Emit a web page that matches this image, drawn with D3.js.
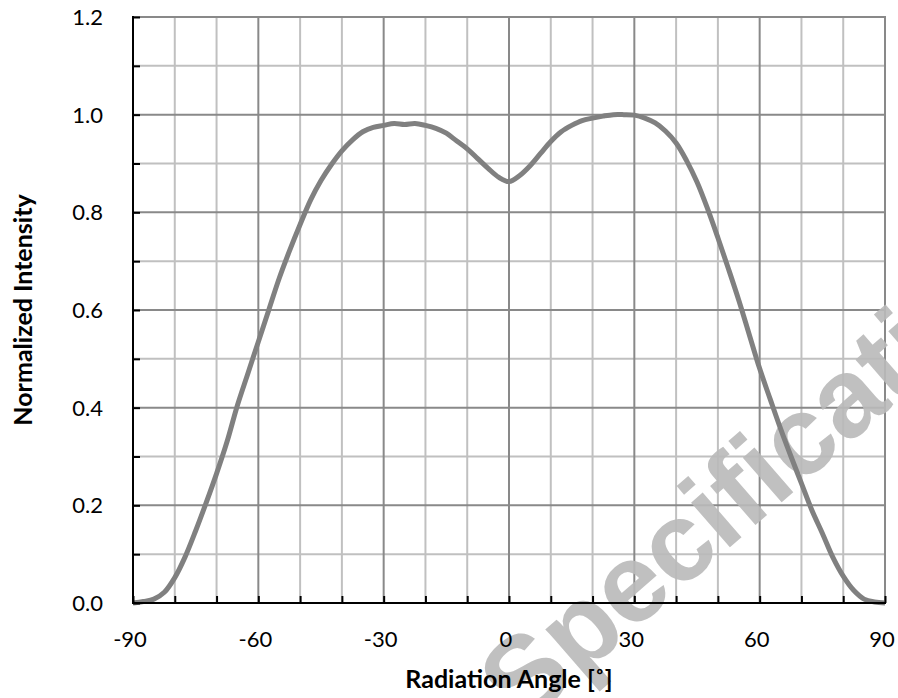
<!DOCTYPE html>
<html>
<head>
<meta charset="utf-8">
<script src="https://cdnjs.cloudflare.com/ajax/libs/d3/7.8.5/d3.min.js"></script>
<style>
	body { margin: 0; background: #fff; }
	text { font-family: Lato, 'Open Sans', sans-serif; }
</style>
</head>
<body>
<div id="chart"></div>
<script>
var angles = [
	-90, -87.5, -85, -82.5, -80, -77.5, -75, -72.5, -70, -67.5, -65, -62.5,
	-60, -57.5, -55, -52.5, -50, -47.5, -45, -42.5, -40, -37.5, -35, -32.5,
	-30, -27.5, -25, -22.5, -20, -17.5, -15, -12.5, -10, -7.5, -5, -2.5,
	0, 2.5, 5, 7.5, 10, 12.5, 15, 17.5, 20, 22.5, 25, 27.5,
	30, 32.5, 35, 37.5, 40, 42.5, 45, 47.5, 50, 52.5, 55, 57.5,
	60, 62.5, 65, 67.5, 70, 72.5, 75, 77.5, 80, 82.5, 85, 87.5, 90
];
var intensity = [
	0.000, 0.003, 0.008, 0.022, 0.052, 0.095, 0.148, 0.205, 0.265, 0.330, 0.405, 0.470,
	0.535, 0.600, 0.665, 0.722, 0.775, 0.825, 0.865, 0.898, 0.926, 0.948, 0.965, 0.974,
	0.978, 0.982, 0.980, 0.982, 0.978, 0.972, 0.962, 0.946, 0.930, 0.910, 0.890, 0.872,
	0.863, 0.875, 0.895, 0.920, 0.945, 0.965, 0.978, 0.988, 0.993, 0.997, 1.000, 1.000,
	0.999, 0.993, 0.983, 0.966, 0.942, 0.906, 0.862, 0.808, 0.748, 0.685, 0.620, 0.550,
	0.480, 0.418, 0.357, 0.300, 0.245, 0.190, 0.143, 0.094, 0.055, 0.026, 0.008, 0.002, 0.000
];
var xTicks = [-90, -60, -30, 0, 30, 60, 90];
var yTicks = [0, 0.2, 0.4, 0.6, 0.8, 1.0, 1.2];

var width = 898;
var height = 698;
var plotLeft = 133, plotRight = 885, plotTop = 17, plotBottom = 603;

var minorColor = '#c0c0c0';
var majorColor = '#898989';

/* Scale */
var xScale = d3.scaleLinear().domain([-90, 90]).range([plotLeft, plotRight]);
var yScale = d3.scaleLinear().domain([0, 1.2]).range([plotBottom, plotTop]);

var svg = d3
	.select('#chart')
	.append('svg')
	.attr('width', width)
	.attr('height', height);

svg.append('rect').attr('width', width).attr('height', height).attr('fill', '#fff');

/* Grid */
var minorX = d3.range(-80, 91, 10).filter(d => d % 30 !== 0);
var majorX = d3.range(-60, 91, 30);
var minorY = d3.range(1, 12, 2).map(d => d / 10);
var majorY = d3.range(1, 7).map(d => d / 5);

var grid = svg.append('g').attr('class', 'grid');

grid
	.selectAll('.vminor')
	.data(minorX)
	.enter()
	.append('line')
	.attr('x1', d => xScale(d))
	.attr('x2', d => xScale(d))
	.attr('y1', yScale(0))
	.attr('y2', yScale(1.2))
	.style('stroke', minorColor)
	.style('stroke-width', 2);

grid
	.selectAll('.hminor')
	.data(minorY)
	.enter()
	.append('line')
	.attr('x1', xScale(-90))
	.attr('x2', xScale(90))
	.attr('y1', d => yScale(d))
	.attr('y2', d => yScale(d))
	.style('stroke', minorColor)
	.style('stroke-width', 2);

grid
	.selectAll('.hmajor')
	.data(majorY)
	.enter()
	.append('line')
	.attr('x1', xScale(-90))
	.attr('x2', xScale(90) + 1)
	.attr('y1', d => yScale(d))
	.attr('y2', d => yScale(d))
	.style('stroke', majorColor)
	.style('stroke-width', 2);

grid
	.selectAll('.vmajor')
	.data(majorX)
	.enter()
	.append('line')
	.attr('x1', d => xScale(d))
	.attr('x2', d => xScale(d))
	.attr('y1', yScale(0))
	.attr('y2', yScale(1.2) - 1)
	.style('stroke', majorColor)
	.style('stroke-width', 2);

/* Watermark */
svg
	.append('text')
	.attr('transform', 'translate(522, 728) rotate(-41)')
	.style('font-family', "'Liberation Sans', Arial, sans-serif")
	.style('font-weight', 'bold')
	.style('font-size', '112px')
	.style('fill', '#bababa')
	.style('opacity', 0.9)
	.text('Specification');

/* Curve */
var points = angles.map((a, i) => ({ angle: a, value: intensity[i] }));

var line = d3
	.line()
	.x(d => xScale(d.angle))
	.y(d => yScale(d.value))
	.curve(d3.curveCatmullRom);

svg
	.append('path')
	.datum(points)
	.attr('d', line)
	.style('fill', 'none')
	.style('stroke', '#808080')
	.style('stroke-width', 5)
	.style('stroke-linejoin', 'round');

/* Axes */
var xAxis = d3.axisTop(xScale).tickValues(d3.range(-90, 91, 10)).tickSize(7).tickFormat('');
var yAxis = d3.axisRight(yScale).tickValues(d3.range(0, 13).map(d => d / 10)).tickSize(7).tickFormat('');

var gx = svg
	.append('g')
	.attr('transform', `translate(0, ${yScale(0)})`)
	.call(xAxis);

var gy = svg
	.append('g')
	.attr('transform', `translate(${xScale(-90)}, 0)`)
	.call(yAxis);

[gx, gy].forEach(g => {
	g.select('.domain').remove();
	g.selectAll('.tick line').style('stroke', '#000').style('stroke-width', 2);
});

svg
	.append('line')
	.attr('x1', xScale(-90) - 1)
	.attr('x2', xScale(90) + 1)
	.attr('y1', yScale(0))
	.attr('y2', yScale(0))
	.style('stroke', '#000')
	.style('stroke-width', 2);

svg
	.append('line')
	.attr('x1', xScale(-90))
	.attr('x2', xScale(-90))
	.attr('y1', yScale(0))
	.attr('y2', yScale(1.2) - 1)
	.style('stroke', '#000')
	.style('stroke-width', 2);

/* Tick labels */
svg
	.selectAll('.xlabel')
	.data(xTicks)
	.enter()
	.append('text')
	.attr('x', d => xScale(d) - 3)
	.attr('y', 647)
	.attr('text-anchor', 'middle')
	.style('font-size', '22px')
	.style('fill', '#000')
	.text(d => d);

svg
	.selectAll('.ylabel')
	.data(yTicks)
	.enter()
	.append('text')
	.attr('x', 103)
	.attr('y', d => yScale(d) + 8)
	.attr('text-anchor', 'end')
	.style('font-size', '22px')
	.style('fill', '#000')
	.text(d => d3.format('.1f')(d));

/* Axis titles */
svg
	.append('text')
	.attr('x', (plotLeft + plotRight) / 2)
	.attr('y', 688)
	.attr('text-anchor', 'middle')
	.style('font-size', '25px')
	.style('font-weight', 'bold')
	.style('fill', '#000')
	.text('Radiation Angle [˚]');

svg
	.append('text')
	.attr('transform', `translate(32, ${(plotTop + plotBottom) / 2}) rotate(-90)`)
	.attr('text-anchor', 'middle')
	.style('font-size', '25px')
	.style('font-weight', 'bold')
	.style('fill', '#000')
	.text('Normalized Intensity');
</script>
</body>
</html>
